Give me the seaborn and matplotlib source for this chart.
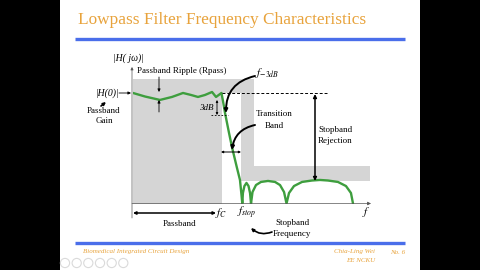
import matplotlib
matplotlib.use("Agg")
import matplotlib.pyplot as plt
import seaborn as sns
import pandas as pd
from matplotlib.patches import Rectangle, Circle

sns.set_theme(style="white")
plt.rcParams['font.family'] = ['Liberation Serif', 'DejaVu Serif']
plt.rcParams['mathtext.fontset'] = 'stix'

# ---- data (normalized frequency, normalized magnitude) ----
freq = [0.000, 0.135, 0.303, 0.438, 0.562, 0.652, 0.730, 0.809, 0.888, 0.933,
        0.994, 1.011, 1.034, 1.079, 1.112, 1.165, 1.202, 1.221, 1.228,
        1.235, 1.252, 1.275, 1.298, 1.315, 1.326,
        1.343, 1.382, 1.438, 1.517, 1.596, 1.652, 1.697, 1.725,
        1.753, 1.809, 1.899, 2.011, 2.101, 2.191, 2.303, 2.393, 2.449, 2.472]
mag = [1.000, 0.968, 0.937, 0.964, 1.000, 0.982, 0.964, 0.982, 1.009, 0.964,
       1.000, 0.928, 0.819, 0.638, 0.511, 0.333, 0.213, 0.062, 0.000,
       0.095, 0.158, 0.186, 0.158, 0.095, 0.000,
       0.104, 0.167, 0.195, 0.204, 0.195, 0.167, 0.104, 0.000,
       0.095, 0.158, 0.195, 0.208, 0.213, 0.208, 0.195, 0.158, 0.095, 0.000]

f_c = 1.0
f_stop_lo = 1.210
f_stop_hi = 1.360
f_max = 2.663
h_ripple_top = 1.127
h0 = 1.0
h_stop = 0.204
h_stop_top = 0.339

title = "Lowpass Filter Frequency Characteristics"
footer_left = "Biomedical Integrated Circuit Design"
footer_author = "Chia-Ling Wei"
footer_dept = "EE NCKU"
footer_page = "No. 6"

ORANGE = "#E8A33C"
BLUE = "#4A6EEA"
GREEN = "#3E9E3E"
GRAY = "#D5D5D5"

fig = plt.figure(figsize=(4.8, 2.7), dpi=100)
fig.patch.set_facecolor("white")

# chart axes (data coordinates)
cax = fig.add_axes([133/480, 1-203.5/270, 237/480, 135.5/270])
cax.set_zorder(1)
cax.set_xlim(0, f_max)
cax.set_ylim(0, 1.226)
cax.axis("off")
cax.patch.set_alpha(0)

for (x0, x1, y0, y1) in [(0, f_c, 0, h_ripple_top),
                         (0, f_stop_hi, h0, h_ripple_top),
                         (f_stop_lo, f_stop_hi, h_stop, h_ripple_top),
                         (f_stop_hi, f_max, h_stop, h_stop_top)]:
    cax.add_patch(Rectangle((x0, y0), x1-x0, y1-y0, facecolor=GRAY,
                            edgecolor="none", zorder=0))

df = pd.DataFrame({"f": freq, "H": mag})
sns.lineplot(data=df, x="f", y="H", sort=False, estimator=None, ax=cax,
             color=GREEN, linewidth=1.7, zorder=3)

# overlay axes in pixel coordinates
ax = fig.add_axes([0, 0, 1, 1])
ax.set_zorder(2)
ax.set_xlim(0, 480)
ax.set_ylim(270, 0)
ax.axis("off")
ax.patch.set_alpha(0)

ax.add_patch(Rectangle((0, 0), 60, 270, facecolor="black", edgecolor="none"))
ax.add_patch(Rectangle((420, 0), 60, 270, facecolor="black", edgecolor="none"))

ax.text(78, 20, title, color=ORANGE, fontsize=12.4, va="center", ha="left")
ax.plot([75, 405], [38.5, 38.5], color=BLUE, lw=2.4, solid_capstyle="butt")
ax.plot([75, 405], [242.5, 242.5], color=BLUE, lw=2.4, solid_capstyle="butt")

ax.text(83, 252, footer_left, color=ORANGE, fontsize=5, style="italic", va="center")
ax.text(375, 252, footer_author, color=ORANGE, fontsize=5, style="italic", va="center", ha="right")
ax.text(375, 261, footer_dept, color=ORANGE, fontsize=5, style="italic", va="center", ha="right")
ax.text(390, 252, footer_page, color=ORANGE, fontsize=5, style="italic", va="center")
for cx in [65, 76.7, 88.3, 100, 111.7, 123.3]:
    ax.add_patch(Circle((cx, 263), 4.6, facecolor="none", edgecolor="#DADADA", lw=0.8))


def arrow(x0, y0, x1, y1, rad=0.0, lw=0.8, both=False, ms=5, color="black"):
    style = "<|-|>" if both else "-|>"
    ax.annotate("", xy=(x1, y1), xytext=(x0, y0),
                arrowprops=dict(arrowstyle=style, color=color, lw=lw,
                                mutation_scale=ms, shrinkA=0, shrinkB=0,
                                connectionstyle=f"arc3,rad={rad}"))

# axes
arrow(132, 218, 132, 67, lw=0.5, ms=4, color="#555555")
arrow(132, 203.5, 371, 203.5, lw=0.5, ms=5, color="#555555")

TXT = dict(color="black", fontsize=6.5, va="center")
ax.text(128, 58, "|H( jω)|", ha="center", style="italic", **{**TXT, "fontsize": 7})
ax.text(108, 93, "|H(0)|", ha="center", style="italic", **{**TXT, "fontsize": 7})
arrow(119, 93, 131, 93, lw=0.6, ms=4)
ax.text(104, 111, "Passband", ha="center", **TXT)
ax.text(104, 121, "Gain", ha="center", **TXT)
arrow(101, 106, 106, 102, lw=1.2, ms=4)

ax.text(137, 71, "Passband Ripple (Rpass)", ha="left", **TXT)
arrow(159, 77, 159, 92, lw=0.6, ms=4)
arrow(159, 112, 159, 100, lw=0.6, ms=4)

ax.text(214, 108, "3dB", ha="right", style="italic", **TXT)
arrow(217, 100, 217, 115, lw=0.6, ms=3, both=True)
ax.plot([211, 228], [115, 115], color="black", lw=0.6, ls=(0, (2, 2)))

ax.plot([222, 327], [93, 93], color="black", lw=0.7, ls=(0, (3, 2)))

ax.text(255, 73, r"$f_{-3dB}$", ha="left", **{**TXT, "fontsize": 8})
arrow(255, 76, 226, 113, rad=0.4, lw=1.4, ms=5)

ax.text(274, 114, "Transition", ha="center", **TXT)
ax.text(274, 126, "Band", ha="center", **TXT)
arrow(255, 125, 232, 150, rad=0.35, lw=1.4, ms=5)
arrow(221, 152, 241, 152, lw=0.7, ms=3, both=True)

arrow(315, 94, 315, 181, lw=1.1, ms=5, both=True)
ax.text(318, 130, "Stopband", ha="left", **TXT)
ax.text(318, 141, "Rejection", ha="left", **TXT)

ax.text(221, 213, r"$f_C$", ha="center", **{**TXT, "fontsize": 8})
ax.text(247, 213, r"$f_{stop}$", ha="center", **{**TXT, "fontsize": 8})
ax.text(366, 212, r"$f$", ha="center", **{**TXT, "fontsize": 8})
arrow(133, 213, 216, 213, lw=1.1, ms=4, both=True)
ax.text(180, 224, "Passband", ha="center", **TXT)
ax.text(292, 223, "Stopband", ha="center", **TXT)
ax.text(292, 234, "Frequency", ha="center", **TXT)
arrow(272, 232, 251, 228, rad=-0.3, lw=1.2, ms=4)

fig.savefig("out.png", dpi=100, facecolor=fig.get_facecolor())
